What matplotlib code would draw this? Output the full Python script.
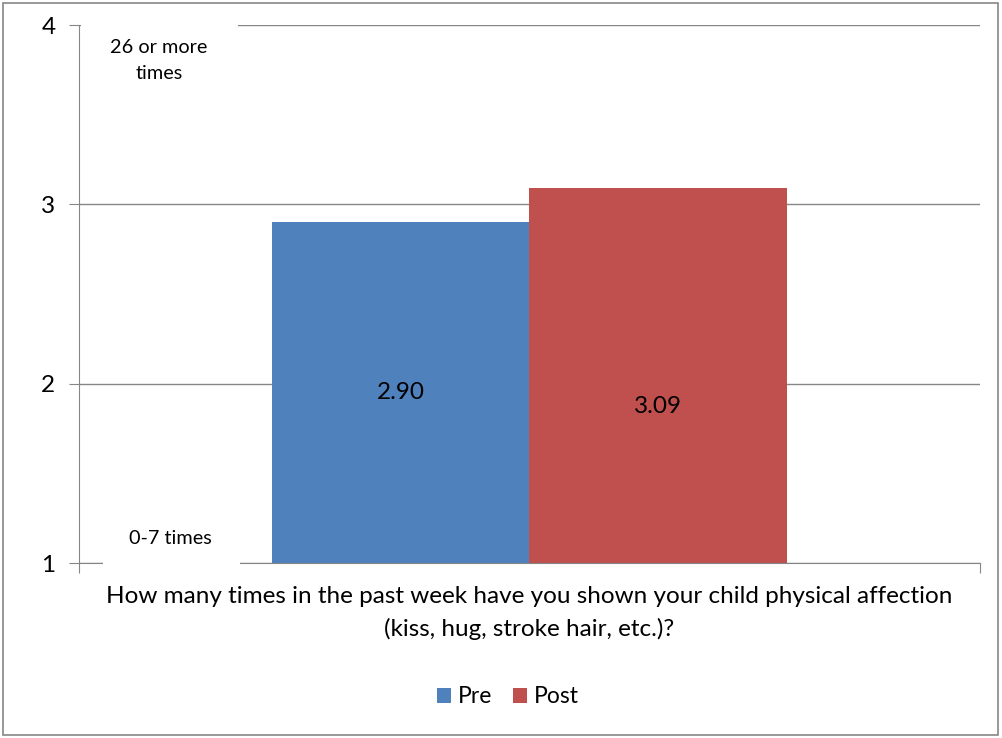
import numpy as np
import matplotlib.pyplot as plt
from matplotlib.patches import Rectangle

# datos
series = ["Pre", "Post"]
valores = [2.90, 3.09]
etiquetas = ["2.90", "3.09"]
colores = ["#4F81BD", "#C0504D"]
yticks = [1, 2, 3, 4]
pregunta = "How many times in the past week have you shown your child physical affection\n(kiss, hug, stroke hair, etc.)?"

plt.rcParams['font.family'] = ['Lato', 'DejaVu Sans']
fs = 17.5

fig = plt.figure(figsize=(10.02, 7.38), dpi=100)
ax = fig.add_axes([0.0788, 0.2371, 0.8992, 0.7290])

# marco de la figura
fig.patches.append(Rectangle((0.003, 0.004), 0.993, 0.992, transform=fig.transFigure,
                             fill=False, edgecolor="#868686", lw=1.2))

ancho = 0.2857
x = np.array([-ancho/2, ancho/2])
for i in range(len(series)):
    ax.bar(x[i], valores[i] - 1, bottom=1, width=ancho, color=colores[i],
           label=series[i], zorder=2)

# etiquetas de valor (Excel las pone aprox. a media altura)
ypos = [1.95, 1.875]
for i in range(len(series)):
    ax.text(x[i], ypos[i], etiquetas[i], ha="center", va="center", fontsize=fs, zorder=3)

ax.set_xlim(-0.5, 0.5)
ax.set_ylim(1, 4)
ax.set_yticks(yticks)
ax.set_yticklabels([str(t) for t in yticks], fontsize=fs)
ax.set_xticks([-0.5, 0.5])
ax.set_xticklabels(["", ""])
ax.grid(True, axis="y", color="#868686", lw=1.0, zorder=0)
for s in ["top", "right"]:
    ax.spines[s].set_visible(False)
for s in ["left", "bottom"]:
    ax.spines[s].set_color("#868686")
ax.tick_params(axis="y", direction="out", length=7, color="#868686", pad=10)
ax.tick_params(axis="x", direction="out", length=7, color="#868686")

ax.set_xlabel(pregunta, fontsize=fs, labelpad=6, linespacing=1.6)

# cajas blancas de los textos (tapan lineas como en Excel)
ax.add_patch(Rectangle((0.002, 0.866), 0.174, 0.145, transform=ax.transAxes,
                       facecolor="white", edgecolor="none", zorder=3, clip_on=False))
ax.add_patch(Rectangle((0.027, -0.01), 0.152, 0.10, transform=ax.transAxes,
                       facecolor="white", edgecolor="none", zorder=3, clip_on=False))
ax.text(0.0888, 0.934, "26 or more\ntimes", transform=ax.transAxes, ha="center", va="center",
        fontsize=14.3, linespacing=1.6, zorder=4)
ax.text(0.102, 0.0465, "0-7 times", transform=ax.transAxes, ha="center", va="center",
        fontsize=14.3, zorder=4)

ax.legend(loc="center", bbox_to_anchor=(0.476, -0.249), ncol=2, frameon=False, fontsize=16.5,
          handlelength=0.6, handleheight=0.6, handletextpad=0.3, columnspacing=0.9)

fig.savefig("out.png", dpi=100)
